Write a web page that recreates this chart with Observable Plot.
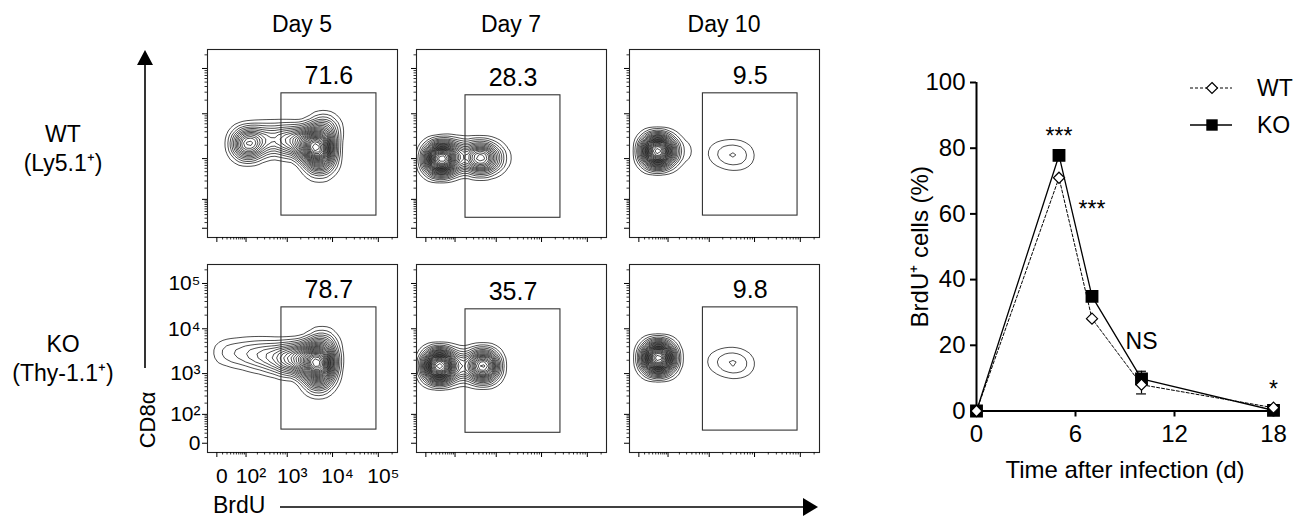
<!DOCTYPE html>
<html><head><meta charset="utf-8">
<script src="https://cdn.jsdelivr.net/npm/d3@7"></script>
<script src="https://cdn.jsdelivr.net/npm/@observablehq/plot@0.6"></script>
<style>
body{margin:0;background:#fff;}
#fig{position:relative;width:1304px;height:521px;overflow:hidden;background:#fff;font-family:"Liberation Sans",Arial,Helvetica,sans-serif;color:#000;}
#fig .abs{position:absolute;}
#fig svg{overflow:visible;}
</style></head><body><div id="fig"></div>
<script>
// ================= DATA =================
// Flow-cytometry panels (order: WT d5, WT d7, WT d10, KO d5, KO d7, KO d10)
const days = ["Day 5", "Day 7", "Day 10"];
const rowNames = ["WT", "KO"];
const rowSubs = ["(Ly5.1⁺)", "(Thy-1.1⁺)"];
const panelRow = [0, 0, 0, 1, 1, 1];
const panelCol = [0, 1, 2, 0, 1, 2];
const gateLabel = ["71.6", "28.3", "9.5", "78.7", "35.7", "9.8"];
const gateX1 = [740, 190, 720, 740, 190, 720];
const gateX2 = [91000, 25900, 87000, 91000, 25900, 87000];
const gateY1 = [27, 21, 27, 30, 21, 27];
const gateY2 = [28300, 25600, 28300, 29700, 26900, 29700];
// event clusters: panel, BrdU, CD8a, relative weight
const clPanel  = [0,0,0,0,0,0,0, 1,1,1,1, 2,2,2,2,2,2,2, 3,3,3,3,3,3,3,3, 4,4,4, 5,5,5,5,5,5];
const clBrdU   = [110,330,930,2350,4900,6300,5200, 32,105,420,960, 47,200,1100,2100,3270,5000,7000, 16,100,320,930,2350,5200,5800,4900, 26,120,510, 50,1100,2100,3270,5000,7000];
const clCD8    = [2150,2750,2600,2350,1740,4500,800, 980,1150,1035,1035, 1480,1480,1350,1250,1210,1180,1150, 3000,2800,2500,2150,2150,1740,4200,770, 1480,1480,1480, 2250,1900,1800,1740,1680,1650];
const clWeight = [4,1.5,2,3,6,2,2, 6,1.5,3.5,0.8, 6,0.4,0.15,0.24,0.3,0.24,0.12, 0.6,1,1.5,2.5,3.5,6,2,2.5, 6,1.5,4.5, 6,0.15,0.24,0.3,0.24,0.12];
const facsMajor = [0, 100, 1000, 10000, 100000];
const facsMajorLabel = ["0", "10²", "10³", "10⁴", "10⁵"];
const facsMinor = [10,20,30,40,50,60,70,80,90,200,300,400,500,600,700,800,900,2000,3000,4000,5000,6000,7000,8000,9000,20000,30000,40000,50000,60000,70000,80000,90000,200000];
const facsXTitle = "BrdU";
const facsYTitle = "CD8α";

// Line chart
const timeDays = [0, 5, 7, 10, 18];
const wtPct = [0, 71.0, 28.1, 8.0, 1.0];
const koPct = [0, 77.8, 34.9, 9.8, 0.2];
const wtErr = [0, 0, 0, 2.8, 0];   // drawn below the mean
const koErr = [0, 0, 0, 2.3, 0];   // drawn above the mean
const sigDay = [5, 7, 10, 18];
const sigPct = [83.6, 61.3, 21.2, 6.5];
const sigText = ["***", "***", "NS", "*"];
const xTicks = [0, 6, 12, 18];
const yTicks = [0, 20, 40, 60, 80, 100];
const legendNames = ["WT", "KO"];

// ================= LAYOUT =================
const FONT = '"Liberation Sans", Arial, Helvetica, sans-serif';
const fig = document.getElementById("fig");
const colLeft = [207, 416, 629], rowTop = [49, 264];
const PW = 190, PH = 188;
const C = 30;
const sym = v => Math.sign(v) * Math.log1p(Math.abs(v) / C);
const symInv = s => Math.sign(s) * C * Math.expm1(Math.abs(s));
const symMid = (a, b) => symInv((sym(a) + sym(b)) / 2);

function place(el, left, top) {
  const d = document.createElement("div");
  d.className = "abs"; d.style.left = left + "px"; d.style.top = top + "px";
  d.appendChild(el); fig.appendChild(d);
}

const clusters = clPanel.map((p, k) => ({p, brdu: clBrdU[k], cd8: clCD8[k], w: clWeight[k]}));

for (let i = 0; i < 6; i++) {
  const r = panelRow[i], c = panelCol[i];
  const showLabels = (r === 1 && c === 0);
  const pts = clusters.filter(d => d.p === i);
  const gate = [{x1: gateX1[i], x2: gateX2[i], y1: gateY1[i], y2: gateY2[i], label: gateLabel[i], xm: symMid(gateX1[i], gateX2[i])}];
  const ML = 60, MR = 2, MT = 2, MB = 40;
  const fmt = d => showLabels ? facsMajorLabel[facsMajor.indexOf(d)] : "";
  const svg = Plot.plot({
    width: PW + ML + MR, height: PH + MT + MB,
    marginLeft: ML, marginRight: MR, marginTop: MT, marginBottom: MB,
    style: {background: "transparent", fontFamily: FONT, fontSize: "21px", color: "#000", overflow: "visible"},
    x: {type: "symlog", constant: C, domain: [-18, 262144], axis: null},
    y: {type: "symlog", constant: C, domain: [-18, 262144], axis: null},
    marks: [
      Plot.density(pts, {x: "brdu", y: "cd8", weight: "w", bandwidth: 8, thresholds: 26, stroke: "#000", strokeWidth: 0.7, clip: true}),
      Plot.rect(gate, {x1: "x1", x2: "x2", y1: "y1", y2: "y2", fill: "none", stroke: "#333", strokeWidth: 1.1}),
      Plot.text(gate, {x: "xm", y: "y2", text: "label", lineAnchor: "bottom", dy: -9, fontSize: 25}),
      Plot.frame({stroke: "#222", strokeWidth: 1.1}),
      Plot.axisX(facsMinor, {tickSize: 2.5, tickFormat: () => "", label: null, strokeWidth: 0.8}),
      Plot.axisX(facsMajor, {tickSize: 5, tickFormat: () => "", label: null, strokeWidth: 1}),
      Plot.axisX(facsMajor, {tickSize: 0, tickPadding: 16, dx: 5, tickFormat: fmt, label: null, fontSize: 21}),
      Plot.axisY(facsMinor, {tickSize: 2.5, tickFormat: () => "", label: null, strokeWidth: 0.8}),
      Plot.axisY(facsMajor, {tickSize: 5, tickPadding: 2, tickFormat: fmt, label: null, strokeWidth: 1, fontSize: 21})
    ]
  });
  place(svg, colLeft[c] - ML, rowTop[r] - MT);
}

// ----- line chart -----
const rows = timeDays.map((t, k) => ({t, wt: wtPct[k], ko: koPct[k], we: wtErr[k], ke: koErr[k]}));
const wtErrRows = rows.filter(d => d.we > 0), koErrRows = rows.filter(d => d.ke > 0);
const sig = sigDay.map((t, k) => ({t, v: sigPct[k], s: sigText[k]}));
const line = Plot.plot({
  width: 424, height: 445, marginLeft: 96, marginRight: 31, marginTop: 42, marginBottom: 74.5,
  style: {background: "transparent", fontFamily: FONT, fontSize: "24px", color: "#000", overflow: "visible"},
  x: {domain: [0, 18], axis: null},
  y: {domain: [0, 100], axis: null},
  marks: [
    Plot.axisX(xTicks, {tickSize: 6, tickPadding: 8, strokeWidth: 2, label: "Time after infection (d)", labelAnchor: "center", labelOffset: 66.5, labelArrow: "none", fontSize: 24}),
    Plot.axisY(yTicks, {tickSize: 6, tickPadding: 5, strokeWidth: 2, label: "BrdU⁺ cells (%)", labelAnchor: "center", labelOffset: 66, labelArrow: "none", fontSize: 24}),
    Plot.ruleX([0], {strokeWidth: 2}),
    Plot.ruleY([0], {strokeWidth: 2}),
    Plot.ruleX(koErrRows, {x: "t", y1: "ko", y2: d => d.ko + d.ke, strokeWidth: 1.2}),
    Plot.ruleY(koErrRows, {y: d => d.ko + d.ke, x1: d => d.t - 0.3, x2: d => d.t + 0.3, strokeWidth: 1.2}),
    Plot.ruleX(wtErrRows, {x: "t", y1: "wt", y2: d => d.wt - d.we, strokeWidth: 1.2}),
    Plot.ruleY(wtErrRows, {y: d => d.wt - d.we, x1: d => d.t - 0.3, x2: d => d.t + 0.3, strokeWidth: 1.2}),
    Plot.line(rows, {x: "t", y: "ko", stroke: "#000", strokeWidth: 1.3}),
    Plot.line(rows, {x: "t", y: "wt", stroke: "#000", strokeWidth: 1, strokeDasharray: "3,2"}),
    Plot.dot(rows, {x: "t", y: "ko", symbol: "square", r: 6.4, fill: "#000", stroke: "#000"}),
    Plot.dot(rows, {x: "t", y: "wt", symbol: "diamond2", r: 5, fill: "#fff", stroke: "#000", strokeWidth: 1.2}),
    Plot.text(sig, {x: "t", y: "v", text: "s", fontSize: 23})
  ]
});
place(line, 880, 40);

// ----- annotations (titles, arrows, legend) -----
const NS = "http://www.w3.org/2000/svg";
const ov = document.createElementNS(NS, "svg");
ov.setAttribute("width", 1304); ov.setAttribute("height", 521);
ov.style.position = "absolute"; ov.style.left = "0"; ov.style.top = "0"; ov.style.pointerEvents = "none";
ov.style.fontFamily = FONT;
function el(tag, attrs, text) {
  const e = document.createElementNS(NS, tag);
  for (const k in attrs) e.setAttribute(k, attrs[k]);
  if (text != null) e.textContent = text;
  ov.appendChild(e); return e;
}
days.forEach((d, c) => el("text", {x: colLeft[c] + PW / 2, y: 32, "text-anchor": "middle", "font-size": 23}, d));
const rowBase = [[142, 171], [352, 381]];
rowNames.forEach((n, r) => {
  el("text", {x: 63, y: rowBase[r][0], "text-anchor": "middle", "font-size": 23}, n);
  el("text", {x: 63, y: rowBase[r][1], "text-anchor": "middle", "font-size": 23}, rowSubs[r]);
});
// vertical arrow (CD8a)
el("line", {x1: 145, y1: 64, x2: 145, y2: 368, stroke: "#000", "stroke-width": 1.6});
el("polygon", {points: "137,65 145,50 153,65", fill: "#000"});
el("text", {x: 0, y: 0, "text-anchor": "middle", "font-size": 22, transform: "translate(155,420) rotate(-90)"}, facsYTitle);
// horizontal arrow (BrdU)
el("text", {x: 213, y: 513, "font-size": 23}, facsXTitle);
el("line", {x1: 280, y1: 507, x2: 805, y2: 507, stroke: "#000", "stroke-width": 1.6});
el("polygon", {points: "803,498 818,507 803,516", fill: "#000"});
// legend
const legY = [88, 125];
el("line", {x1: 1190, y1: legY[0], x2: 1232, y2: legY[0], stroke: "#000", "stroke-width": 1, "stroke-dasharray": "3,2"});
el("polygon", {points: `1212,${legY[0]-5.5} 1217.5,${legY[0]} 1212,${legY[0]+5.5} 1206.5,${legY[0]}`, fill: "#fff", stroke: "#000", "stroke-width": 1.2});
el("line", {x1: 1190, y1: legY[1], x2: 1232, y2: legY[1], stroke: "#000", "stroke-width": 1.3});
el("rect", {x: 1206.3, y: legY[1] - 5.7, width: 11.4, height: 11.4, fill: "#000"});
legendNames.forEach((n, k) => el("text", {x: 1257, y: legY[k] + 8, "font-size": 23}, n));
fig.appendChild(ov);
</script>
</body></html>
